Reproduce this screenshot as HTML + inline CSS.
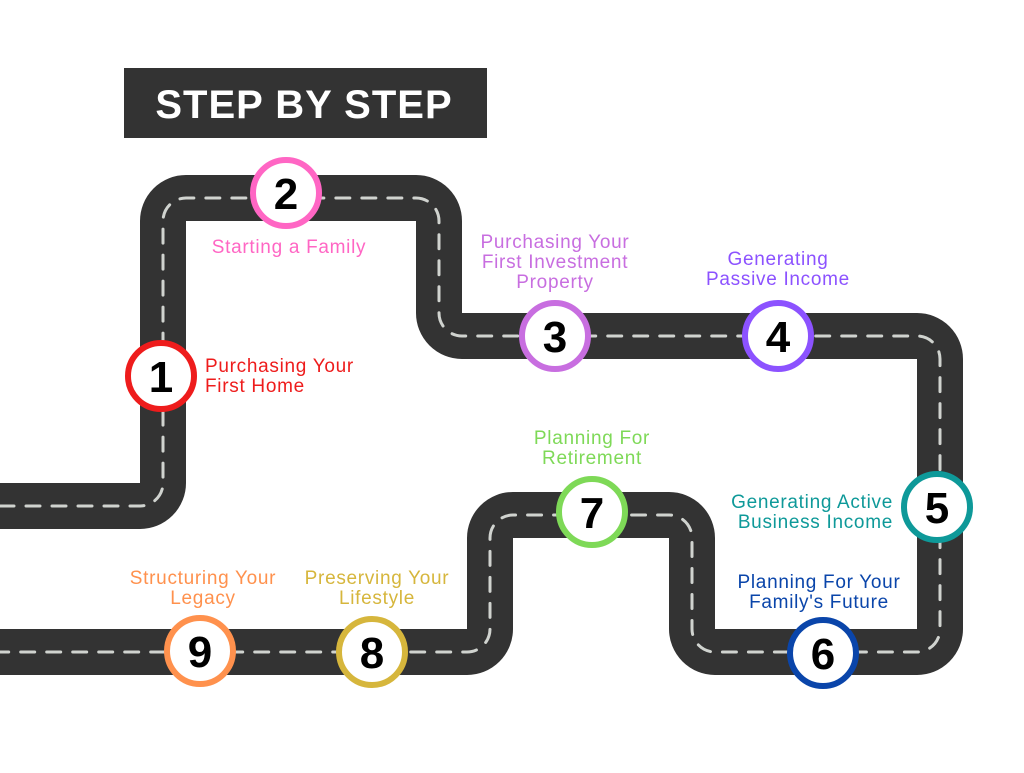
<!DOCTYPE html>
<html><head><style>
body{margin:0;background:#fff;}
svg text{font-family:"Liberation Sans",sans-serif;}
</style></head><body>
<svg width="1024" height="768" viewBox="0 0 1024 768" xmlns="http://www.w3.org/2000/svg">
<rect width="1024" height="768" fill="#fff"/>
<rect x="124" y="68" width="363" height="70" fill="#333"/>
<text x="304" y="118" fill="#fff" font-size="40" font-weight="bold" text-anchor="middle" letter-spacing="1">STEP BY STEP</text>
<path d="M0 506 H140 A23 23 0 0 0 163 483 V221 A23 23 0 0 1 186 198 H416 A23 23 0 0 1 439 221 V313 A23 23 0 0 0 462 336 H917 A23 23 0 0 1 940 359 V629 A23 23 0 0 1 917 652 H715 A23 23 0 0 1 692 629 V538 A23 23 0 0 0 669 515 H513 A23 23 0 0 0 490 538 V629 A23 23 0 0 1 467 652 H0" fill="none" stroke="#333" stroke-width="46"/>
<path d="M0 506 H140 A23 23 0 0 0 163 483 V221 A23 23 0 0 1 186 198 H416 A23 23 0 0 1 439 221 V313 A23 23 0 0 0 462 336 H917 A23 23 0 0 1 940 359 V629 A23 23 0 0 1 917 652 H715 A23 23 0 0 1 692 629 V538 A23 23 0 0 0 669 515 H513 A23 23 0 0 0 490 538 V629 A23 23 0 0 1 467 652 H0" fill="none" stroke="#d0d3cf" stroke-width="3" stroke-dasharray="14 12" stroke-linecap="round"/>
<g stroke-width="6" fill="#fff">
<circle cx="161" cy="376" r="33" stroke="#ee1c1c"/>
<circle cx="286" cy="193" r="33" stroke="#ff66c4"/>
<circle cx="555" cy="336" r="33" stroke="#c86ee0"/>
<circle cx="778" cy="336" r="33" stroke="#8c52ff"/>
<circle cx="937" cy="507" r="33" stroke="#0e9999"/>
<circle cx="823" cy="653" r="33" stroke="#0a45aa"/>
<circle cx="592" cy="512" r="33" stroke="#7ed957"/>
<circle cx="372" cy="652" r="33" stroke="#d6b63c"/>
<circle cx="200" cy="651" r="33" stroke="#ff914d"/>
</g>
<g font-size="44" font-weight="bold" text-anchor="middle" fill="#000">
<text x="161" y="392">1</text><text x="286" y="209">2</text><text x="555" y="352">3</text>
<text x="778" y="352">4</text><text x="937" y="523">5</text><text x="823" y="669">6</text>
<text x="592" y="528">7</text><text x="372" y="668">8</text><text x="200" y="667">9</text>
</g>
<g font-size="19" letter-spacing="0.7">
<text x="205" y="372" fill="#ee1c1c">Purchasing Your</text><text x="205" y="392" fill="#ee1c1c">First Home</text>
<text x="289" y="253" fill="#ff66c4" text-anchor="middle">Starting a Family</text>
<g fill="#c86ee0" text-anchor="middle"><text x="555" y="248">Purchasing Your</text><text x="555" y="268">First Investment</text><text x="555" y="288">Property</text></g>
<g fill="#8c52ff" text-anchor="middle"><text x="778" y="265">Generating</text><text x="778" y="285">Passive Income</text></g>
<g fill="#0e9999" text-anchor="end"><text x="893" y="508">Generating Active</text><text x="893" y="528">Business Income</text></g>
<g fill="#0a45aa" text-anchor="middle"><text x="819" y="588">Planning For Your</text><text x="819" y="608">Family's Future</text></g>
<g fill="#7ed957" text-anchor="middle"><text x="592" y="444">Planning For</text><text x="592" y="464">Retirement</text></g>
<g fill="#d6b63c" text-anchor="middle"><text x="377" y="584">Preserving Your</text><text x="377" y="604">Lifestyle</text></g>
<g fill="#ff914d" text-anchor="middle"><text x="203" y="584">Structuring Your</text><text x="203" y="604">Legacy</text></g>
</g>
</svg>
</body></html>
